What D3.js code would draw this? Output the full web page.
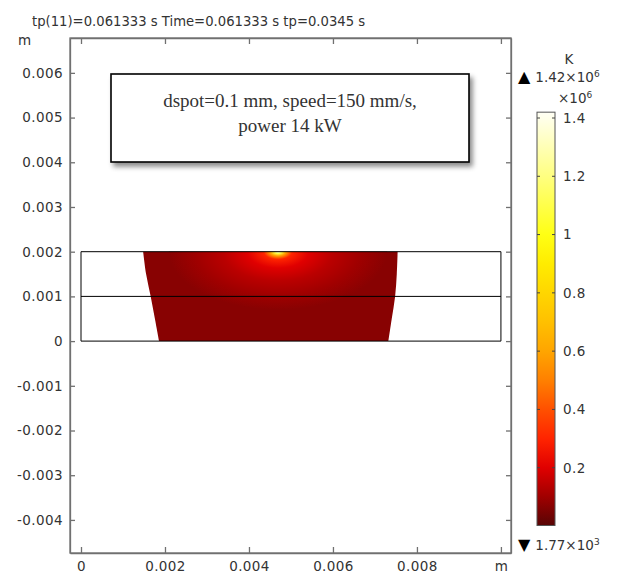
<!DOCTYPE html>
<html>
<head>
<meta charset="utf-8">
<script src="https://cdn.jsdelivr.net/npm/d3@7"></script>
<style>
body { margin: 0; background: #fff; }
text { font-family: "DejaVu Sans", sans-serif; fill: #333; }
</style>
</head>
<body>
<script>
var width = 625,
    height = 576;

// axis ticks (m)
var xTicks = [0, 0.002, 0.004, 0.006, 0.008, 0.01];
var yTicks = [-0.004, -0.003, -0.002, -0.001, 0, 0.001, 0.002, 0.003, 0.004, 0.005, 0.006];

// substrate layers
var layerX = [0, 0.01];
var layerY = [0, 0.001, 0.002];

// melt pool edges [x, y] in m, top to bottom
var poolLeft = [[0.00148, 0.002], [0.00155, 0.0015], [0.00166, 0.001], [0.00176, 0.0005], [0.00186, 0]];
var poolRight = [[0.00754, 0.002], [0.00752, 0.0015], [0.00748, 0.001], [0.0074, 0.0005], [0.00732, 0]];

// laser spot and temperature falloff around it
var spot = [0.00469, 0.002];
var glowSize = [0.0026, 0.0013];
var glowStops = [0, 0.03, 0.07, 0.13, 0.28, 0.5, 0.75, 1];
var glowTemps = [1.42e6, 1.1e6, 0.6e6, 0.3e6, 0.2e6, 0.14e6, 0.1e6, 0.066e6];
var baseTemp = 0.066e6;

// colour legend
var tMin = 1.77e3, tMax = 1.42e6;
var cbTicks = [0.2e6, 0.4e6, 0.6e6, 0.8e6, 1.0e6, 1.2e6, 1.4e6];
var cmapT = [0, 0.1e6, 0.2e6, 0.3e6, 0.4e6, 0.5e6, 0.6e6, 0.7e6, 0.8e6, 0.9e6, 1.0e6, 1.2e6, 1.42e6];
var cmapC = ["#580505", "#a00000", "#e00000", "#ff2400", "#ff5000", "#ff8000", "#ffa500",
             "#ffc000", "#ffd600", "#ffec00", "#ffff14", "#ffff80", "#fffff5"];

var title = "tp(11)=0.061333 s Time=0.061333 s  tp=0.0345 s";
var note = ["dspot=0.1 mm, speed=150 mm/s,", "power 14 kW"];

var color = d3.scaleLinear().domain(cmapT).range(cmapC).clamp(true);
var fmt = d => String(+d.toFixed(4));

var svg = d3.select("body")
            .append("svg")
            .attr("width", width)
            .attr("height", height);

var defs = svg.append("defs");

var x = d3.scaleLinear().domain([-0.000262, 0.01024]).range([70, 511]);
var y = d3.scaleLinear().domain([0.00678, -0.00474]).range([38, 553]);

// title
svg.append("text")
   .attr("x", 32)
   .attr("y", 26)
   .style("font-size", "13.2px")
   .text(title);

// melt pool
var lineC = d3.line().x(d => x(d[0])).y(d => y(d[1])).curve(d3.curveCatmullRom);
var rightUp = poolRight.slice().reverse();
var poolD = lineC(poolLeft) + lineC(rightUp).replace(/^M/, "L") + "Z";

defs.append("clipPath")
    .attr("id", "poolClip")
    .append("path")
    .attr("d", poolD);

var glow = defs.append("radialGradient").attr("id", "glow");
glow.selectAll("stop")
    .data(glowStops)
    .enter()
    .append("stop")
      .attr("offset", d => d)
      .attr("stop-color", (d, i) => color(glowTemps[i]));

var pool = svg.append("g");
pool.append("path")
    .attr("d", poolD)
    .attr("fill", color(baseTemp));

pool.append("ellipse")
    .attr("clip-path", "url(#poolClip)")
    .attr("cx", x(spot[0]))
    .attr("cy", y(spot[1]))
    .attr("rx", x(spot[0] + glowSize[0]) - x(spot[0]))
    .attr("ry", y(spot[1] - glowSize[1]) - y(spot[1]))
    .attr("fill", "url(#glow)");

// layer outlines
var layers = svg.append("g");
layers.selectAll("line")
      .data(layerY)
      .enter()
      .append("line")
        .attr("x1", x(layerX[0]))
        .attr("x2", x(layerX[1]))
        .attr("y1", d => y(d))
        .attr("y2", d => y(d))
        .attr("stroke", "#000")
        .attr("stroke-width", 1);
layers.selectAll(".side")
      .data(layerX)
      .enter()
      .append("line")
        .attr("class", "side")
        .attr("x1", d => x(d))
        .attr("x2", d => x(d))
        .attr("y1", y(layerY[0]))
        .attr("y2", y(layerY[2]))
        .attr("stroke", "#000")
        .attr("stroke-width", 1);

// axes with inward ticks
function styleAxis(g) {
    g.selectAll("path, line").attr("stroke", "#707070").attr("stroke-width", 1.3);
    g.selectAll("text").style("font-size", "13.5px").style("letter-spacing", "0.4px")
     .attr("fill", "#333").style("font-family", "DejaVu Sans, sans-serif");
}

svg.append("g")
   .attr("transform", "translate(0,553)")
   .call(d3.axisBottom(x).tickValues(xTicks).tickSize(-6).tickSizeOuter(0).tickPadding(8)
           .tickFormat(d => d === 0.01 ? "m" : fmt(d)))
   .call(styleAxis);

svg.append("g")
   .attr("transform", "translate(0,38)")
   .call(d3.axisTop(x).tickValues(xTicks).tickSize(-6).tickSizeOuter(0).tickFormat(""))
   .call(styleAxis);

svg.append("g")
   .attr("transform", "translate(70,0)")
   .call(d3.axisLeft(y).tickValues(yTicks).tickSize(-5).tickSizeOuter(0).tickPadding(7)
           .tickFormat(fmt))
   .call(styleAxis);

svg.append("g")
   .attr("transform", "translate(511,0)")
   .call(d3.axisRight(y).tickValues(yTicks).tickSize(-5).tickSizeOuter(0).tickFormat(""))
   .call(styleAxis);

// frame
svg.append("rect")
   .attr("x", 70).attr("y", 38)
   .attr("width", 441).attr("height", 515)
   .attr("fill", "none")
   .attr("stroke", "#707070")
   .attr("stroke-width", 1.3);

svg.append("text")
   .attr("x", 18).attr("y", 45)
   .style("font-size", "13.5px")
   .text("m");

// annotation box
var shadow = defs.append("filter").attr("id", "shadow")
                 .attr("x", "-10%").attr("y", "-10%").attr("width", "130%").attr("height", "140%");
shadow.append("feDropShadow")
      .attr("dx", 3).attr("dy", 4).attr("stdDeviation", 2.5)
      .attr("flood-color", "#000").attr("flood-opacity", 0.45);

var box = svg.append("g");
box.append("rect")
   .attr("x", 111).attr("y", 74)
   .attr("width", 358).attr("height", 88)
   .attr("fill", "#fff")
   .attr("stroke", "#000")
   .attr("stroke-width", 1.6)
   .attr("filter", "url(#shadow)");
box.selectAll("text")
   .data(note)
   .enter()
   .append("text")
     .attr("x", 290)
     .attr("y", (d, i) => 107 + i * 25)
     .attr("text-anchor", "middle")
     .style("font-family", "Liberation Serif, serif")
     .style("font-size", "19px")
     .attr("fill", "#000")
     .text(d => d);

// colour bar
var yC = d3.scaleLinear().domain([0, 1.4e6]).range([526, 118]);
var cbX = 537, cbW = 18;

var grad = defs.append("linearGradient")
               .attr("id", "cbar")
               .attr("x1", 0).attr("y1", 1).attr("x2", 0).attr("y2", 0);
grad.selectAll("stop")
    .data(cmapT)
    .enter()
    .append("stop")
      .attr("offset", d => (d - tMin) / (tMax - tMin))
      .attr("stop-color", (d, i) => cmapC[i]);

svg.append("rect")
   .attr("x", cbX).attr("y", yC(tMax))
   .attr("width", cbW).attr("height", yC(tMin) - yC(tMax))
   .attr("fill", "url(#cbar)")
   .attr("stroke", "#555")
   .attr("stroke-width", 1);

var cb = svg.append("g");
cb.selectAll(".tl")
  .data(cbTicks)
  .enter()
  .append("line")
    .attr("x1", cbX).attr("x2", cbX + 3)
    .attr("y1", d => yC(d)).attr("y2", d => yC(d))
    .attr("stroke", "#444");
cb.selectAll(".tr")
  .data(cbTicks)
  .enter()
  .append("line")
    .attr("x1", cbX + cbW - 3).attr("x2", cbX + cbW)
    .attr("y1", d => yC(d)).attr("y2", d => yC(d))
    .attr("stroke", "#444");
cb.selectAll("text")
  .data(cbTicks)
  .enter()
  .append("text")
    .attr("x", 563)
    .attr("y", d => yC(d))
    .attr("dy", "0.36em")
    .style("font-size", "13.5px")
    .style("letter-spacing", "0.4px")
    .text(d => fmt(d / 1e6));

svg.append("text").attr("x", 569).attr("y", 64).attr("text-anchor", "middle")
   .style("font-size", "13.5px").text("K");

var maxT = svg.append("text").attr("x", 518).attr("y", 82).style("font-size", "13.5px");
maxT.append("tspan").attr("fill", "#000").style("font-size", "16px").text("\u25B2");
maxT.append("tspan").attr("dx", 5).text("1.42\u00D710");
maxT.append("tspan").attr("dy", -5).style("font-size", "9px").text("6");

var mult = svg.append("text").attr("x", 558).attr("y", 103).style("font-size", "13.5px");
mult.append("tspan").text("\u00D710");
mult.append("tspan").attr("dy", -5).style("font-size", "9px").text("6");

var minT = svg.append("text").attr("x", 518).attr("y", 550).style("font-size", "13.5px");
minT.append("tspan").attr("fill", "#000").style("font-size", "16px").text("\u25BC");
minT.append("tspan").attr("dx", 5).text("1.77\u00D710");
minT.append("tspan").attr("dy", -5).style("font-size", "9px").text("3");
</script>
</body>
</html>
